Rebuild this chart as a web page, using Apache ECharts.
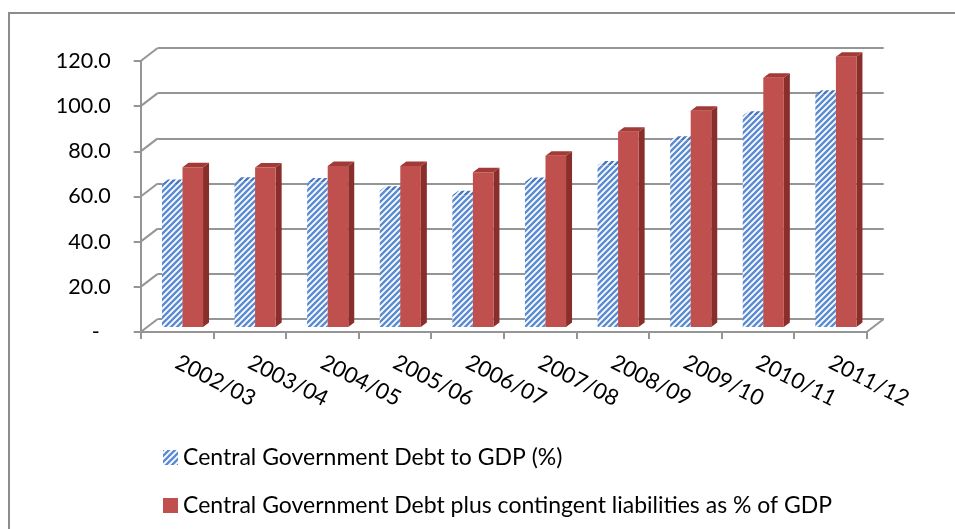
<!DOCTYPE html>
<html>
<head>
<meta charset="utf-8">
<script src="https://cdn.jsdelivr.net/npm/echarts@6/dist/echarts.min.js"></script>
<style>
html,body{margin:0;padding:0;background:#fff;}
#chart{width:955px;height:529px;}
</style>
</head>
<body>
<div id="chart"></div>
<script>
// ---- data ----
const categories = ['2002/03','2003/04','2004/05','2005/06','2006/07','2007/08','2008/09','2009/10','2010/11','2011/12'];
const debtToGDP = [63.3, 64.3, 64.0, 60.3, 58.3, 64.2, 71.5, 82.5, 93.5, 102.8];
const debtPlusContingent = [70.7, 70.6, 71.3, 71.3, 68.5, 75.8, 86.5, 95.8, 110.4, 119.7];
const yTicks = [0, 20, 40, 60, 80, 100, 120];
const seriesNames = ['Central Government Debt to GDP (%)', 'Central Government Debt plus contingent liabilities as % of GDP'];

// ---- styling constants ----
const FONT = 'Lato';
const GRID_COLOR = '#959595';
const WALL_DX = 17, WALL_DY = -13;      // depth of the 3D box
const PLANE_DX = 5.5, PLANE_DY = -5;    // plane where bars stand
const BAR_DX = 6, BAR_DY = -4.5;        // bar depth
const BAR_FRAC = 0.283;

function makeHatch(color){
  const c = document.createElement('canvas');
  c.width = 6; c.height = 6;
  const g = c.getContext('2d');
  g.fillStyle = '#ffffff';
  g.fillRect(0,0,6,6);
  g.strokeStyle = color;
  g.lineWidth = 2.4;
  g.beginPath();
  g.moveTo(-1,7); g.lineTo(7,-1);
  g.moveTo(-4,4); g.lineTo(4,-4);
  g.moveTo(2,10); g.lineTo(10,2);
  g.stroke();
  return {image: c, repeat: 'repeat'};
}
const hatchFront = makeHatch('#5b8bd2');
const hatchTop = makeHatch('#4a78bd');

const RED_FRONT = '#c0504d', RED_SIDE = '#8a2e2b', RED_TOP = '#a23a37';

function barRender(which){
  return function(params, api){
    const i = api.value(0), v = api.value(1);
    const base = api.coord([i, 0]);
    const top = api.coord([i, v]);
    const cw = api.size([1, 0])[0];
    const bw = cw * BAR_FRAC;
    const pc = base[0] + PLANE_DX;
    const x0 = which === 0 ? pc - bw : pc;
    const x1 = x0 + bw;
    const yb = base[1] + PLANE_DY;
    const yt = top[1] + PLANE_DY;
    const front = which === 0 ? hatchFront : RED_FRONT;
    const side = which === 0 ? hatchTop : RED_SIDE;
    const topC = which === 0 ? hatchTop : RED_TOP;
    return {
      type: 'group',
      children: [
        {type: 'polygon', shape: {points: [[x1, yt],[x1+BAR_DX, yt+BAR_DY],[x1+BAR_DX, yb+BAR_DY],[x1, yb]]}, style: {fill: side}},
        {type: 'polygon', shape: {points: [[x0, yt],[x0+BAR_DX, yt+BAR_DY],[x1+BAR_DX, yt+BAR_DY],[x1, yt]]}, style: {fill: topC}},
        {type: 'rect', shape: {x: x0, y: yt, width: bw, height: yb - yt}, style: {fill: front}}
      ]
    };
  };
}

function frameRender(params, api){
  const v = api.value(0);
  const cs = params.coordSys;
  const y = api.coord([0, v])[1];
  const children = [
    {type: 'line', shape: {x1: cs.x, y1: y, x2: cs.x + WALL_DX, y2: y + WALL_DY}, style: {stroke: GRID_COLOR, lineWidth: 2}}
  ];
  if (v === 0) {
    children.push({type: 'line', shape: {x1: cs.x + cs.width, y1: y, x2: cs.x + cs.width + WALL_DX, y2: y + WALL_DY}, style: {stroke: GRID_COLOR, lineWidth: 2}});
  }
  return {type: 'group', children: children};
}

const chart = echarts.init(document.getElementById('chart'));
const option = {
  animation: false,
  textStyle: {fontFamily: FONT},
  graphic: [{
    type: 'rect', z: -10, silent: true,
    shape: {x: 9, y: 13, width: 1000, height: 600},
    style: {fill: 'none', stroke: '#8c8c8c', lineWidth: 2}
  }],
  legend: {
    orient: 'vertical',
    left: 158, top: 440,
    itemWidth: 15, itemHeight: 15,
    itemGap: 23,
    icon: 'rect',
    data: seriesNames,
    textStyle: {fontFamily: FONT, fontSize: 23, color: '#000', lineHeight: 25}
  },
  grid: [
    {left: 140.7, top: 61, width: 726, height: 271},
    {left: 140.7 + WALL_DX, top: 61 + WALL_DY, width: 726, height: 271}
  ],
  xAxis: [
    {
      type: 'category', gridIndex: 0, data: categories,
      axisLine: {lineStyle: {color: GRID_COLOR, width: 2}},
      axisTick: {show: true, length: 7, lineStyle: {color: GRID_COLOR, width: 2}},
      axisLabel: {rotate: -27, margin: 29, fontFamily: FONT, fontSize: 22, color: '#000', interval: 0},
      splitLine: {show: false}
    },
    {
      type: 'category', gridIndex: 1, data: categories,
      axisLine: {show: false}, axisTick: {show: false}, axisLabel: {show: false}, splitLine: {show: false}
    }
  ],
  yAxis: [
    {
      type: 'value', gridIndex: 0, min: 0, max: 120, interval: 20,
      axisLine: {show: true, lineStyle: {color: GRID_COLOR, width: 2}},
      axisTick: {show: true, length: 7, lineStyle: {color: GRID_COLOR, width: 2}},
      axisLabel: {
        margin: 30, fontFamily: FONT, fontSize: 21.5, color: '#000',
        formatter: function(v){ return v === 0 ? '-  ' : v.toFixed(1); }
      },
      splitLine: {show: false}
    },
    {
      type: 'value', gridIndex: 1, min: 0, max: 120, interval: 20,
      axisLine: {show: false}, axisTick: {show: false}, axisLabel: {show: false},
      splitLine: {show: true, lineStyle: {color: GRID_COLOR, width: 2}}
    }
  ],
  series: [
    {
      type: 'custom', name: 'frame', silent: true, xAxisIndex: 0, yAxisIndex: 0,
      data: yTicks.map(function(t){ return [t]; }),
      encode: {y: 0},
      renderItem: frameRender, z: 1
    },
    {
      type: 'custom', name: seriesNames[0], xAxisIndex: 0, yAxisIndex: 0,
      itemStyle: {color: hatchFront},
      data: categories.map(function(c, i){ return [i, debtToGDP[i]]; }),
      encode: {x: 0, y: 1},
      renderItem: barRender(0), z: 3
    },
    {
      type: 'custom', name: seriesNames[1], xAxisIndex: 0, yAxisIndex: 0,
      itemStyle: {color: RED_FRONT},
      data: categories.map(function(c, i){ return [i, debtPlusContingent[i]]; }),
      encode: {x: 0, y: 1},
      renderItem: barRender(1), z: 4
    }
  ]
};
chart.setOption(option);
</script>
</body>
</html>
